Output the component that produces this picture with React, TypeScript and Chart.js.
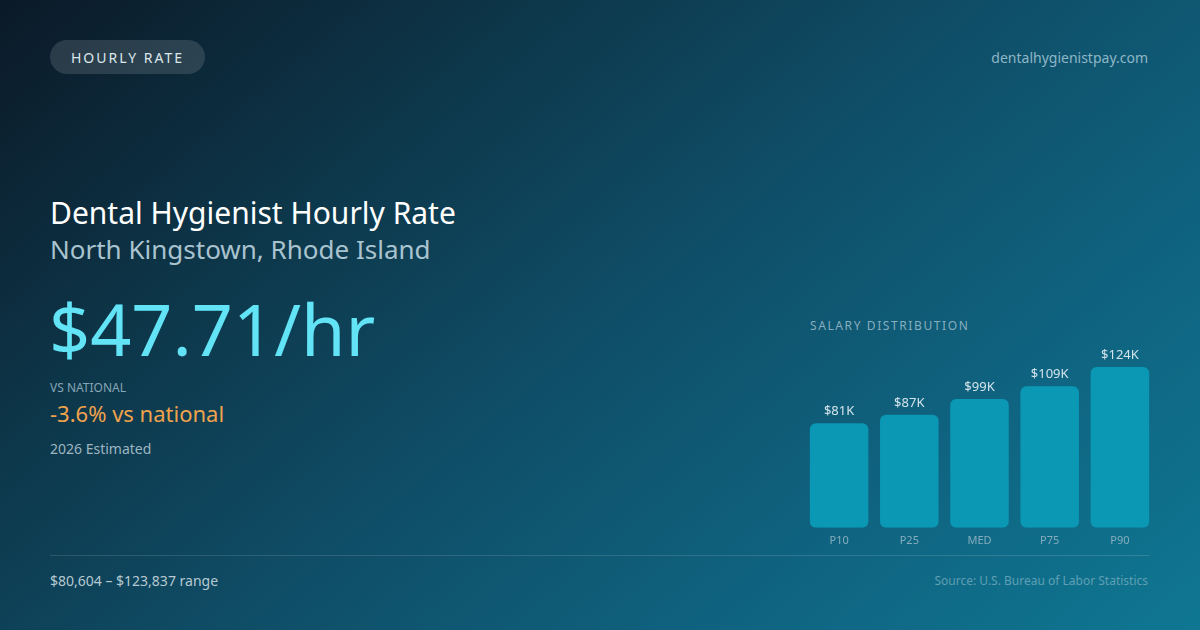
import { useEffect, useRef } from 'react';
import { Chart, BarController, BarElement, CategoryScale, LinearScale } from 'chart.js';
import type { Plugin } from 'chart.js';

Chart.register(BarController, BarElement, CategoryScale, LinearScale);

// salary percentiles, North Kingstown RI
const percentiles = ['P10', 'P25', 'MED', 'P75', 'P90'];
const salaries = [80604, 87000, 99240, 109000, 123837];
const valueLabels = ['$81K', '$87K', '$99K', '$109K', '$124K'];

const FONT = '"Noto Sans", "Open Sans", sans-serif';

const barLabels: Plugin<'bar'> = {
  id: 'barLabels',
  afterDatasetsDraw(chart) {
    const { ctx } = chart;
    const meta = chart.getDatasetMeta(0);
    ctx.save();
    ctx.font = `13px ${FONT}`;
    ctx.fillStyle = '#d3e4eb';
    ctx.textAlign = 'center';
    ctx.textBaseline = 'bottom';
    meta.data.forEach((bar, i) => {
      ctx.fillText(valueLabels[i], bar.x, bar.y - 5);
    });
    ctx.restore();
  },
};

function SalaryBars() {
  const ref = useRef<HTMLCanvasElement>(null);
  const chartRef = useRef<Chart | null>(null);

  useEffect(() => {
    if (!ref.current) return;
    chartRef.current?.destroy();
    chartRef.current = new Chart(ref.current, {
      type: 'bar',
      data: {
        labels: percentiles,
        datasets: [{
          data: salaries,
          backgroundColor: '#0a98b5',
          borderRadius: 6,
          borderSkipped: false,
          categoryPercentage: 1,
          barPercentage: 0.834,
        }],
      },
      options: {
        responsive: false,
        animation: false,
        layout: { padding: { top: 37, left: 0, right: 0, bottom: 0 } },
        plugins: { legend: { display: false }, tooltip: { enabled: false } },
        scales: {
          x: {
            grid: { display: false, drawTicks: false },
            border: { display: false },
            ticks: { color: '#86adbd', font: { family: FONT, size: 11 }, padding: 6 },
          },
          y: {
            display: false,
            min: 0,
            max: Math.max(...salaries),
          },
        },
      },
      plugins: [barLabels],
    });
    return () => { chartRef.current?.destroy(); };
  }, []);

  return <canvas ref={ref} width={351} height={223} style={{ position: 'absolute', left: 804, top: 330, width: 351, height: 223 }} />;
}

export default function App() {
  return (
    <div style={{
      position: 'fixed', left: 0, top: 0, width: 1200, height: 630, overflow: 'hidden',
      background: 'linear-gradient(140deg, #0b1927 0%, #0d3649 27%, #0f4d66 50%, #0f6380 75%, #0f7792 100%)',
      fontFamily: FONT, color: '#fff',
    }}>
      <div style={{
        position: 'absolute', left: 50, top: 40, width: 155, height: 34, borderRadius: 17,
        background: 'rgba(255,255,255,0.13)', color: '#dce7ec', fontSize: 14, letterSpacing: 2,
        display: 'flex', alignItems: 'center', justifyContent: 'center',
      }}>HOURLY RATE</div>
      <div style={{ position: 'absolute', right: 52, top: 48, fontSize: 14, color: '#8db6c6' }}>dentalhygienistpay.com</div>

      <div style={{ position: 'absolute', left: 50, top: 192, fontSize: 30, color: '#ffffff', whiteSpace: 'nowrap' }}>Dental Hygienist Hourly Rate</div>
      <div style={{ position: 'absolute', left: 50, top: 231, fontSize: 26, color: '#a9c3cf', whiteSpace: 'nowrap' }}>North Kingstown, Rhode Island</div>

      <div style={{ position: 'absolute', left: 49, top: 282, fontSize: 72, color: '#62e3f6', whiteSpace: 'nowrap', lineHeight: 1.3 }}>$47.71/hr</div>

      <div style={{ position: 'absolute', left: 50, top: 379, fontSize: 12, color: '#87a6b6' }}>VS NATIONAL</div>
      <div style={{ position: 'absolute', left: 50, top: 398, fontSize: 22, color: '#f0a24c' }}>-3.6% vs national</div>
      <div style={{ position: 'absolute', left: 50, top: 439, fontSize: 14, color: '#9db5c1' }}>2026 Estimated</div>

      <div style={{ position: 'absolute', left: 810, top: 317, fontSize: 12, letterSpacing: 1.6, color: '#88adbd' }}>SALARY DISTRIBUTION</div>
      <SalaryBars />

      <div style={{ position: 'absolute', left: 50, top: 555, width: 1100, height: 1, background: 'rgba(255,255,255,0.13)' }} />
      <div style={{ position: 'absolute', left: 50, top: 571, fontSize: 14, color: '#b6c9d2' }}>$80,604 – $123,837 range</div>
      <div style={{ position: 'absolute', right: 52, top: 572, fontSize: 12, color: '#5f9fb4' }}>Source: U.S. Bureau of Labor Statistics</div>
    </div>
  );
}
